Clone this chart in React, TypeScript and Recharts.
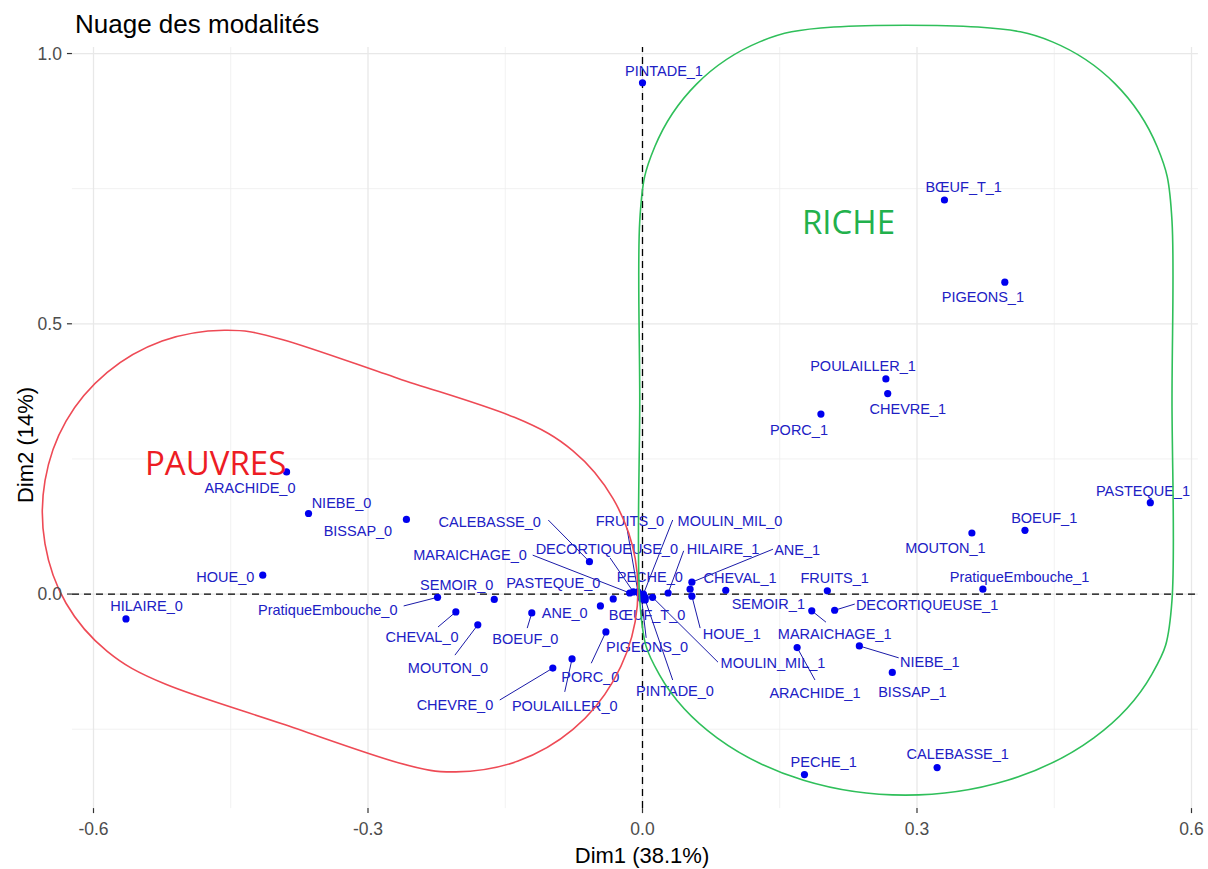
import React from 'react';
import { ScatterChart, Scatter, XAxis, YAxis, ReferenceLine } from 'recharts';

// name, Dim1, Dim2
const MODALITIES: [string, number, number][] = [
  ['PINTADE_1', 0.0, 0.946],
  ['BŒUF_T_1', 0.33, 0.729],
  ['PIGEONS_1', 0.396, 0.577],
  ['POULAILLER_1', 0.266, 0.398],
  ['CHEVRE_1', 0.268, 0.371],
  ['PORC_1', 0.195, 0.333],
  ['PASTEQUE_1', 0.555, 0.169],
  ['BOEUF_1', 0.418, 0.118],
  ['MOUTON_1', 0.36, 0.113],
  ['PratiqueEmbouche_1', 0.372, 0.009],
  ['FRUITS_1', 0.202, 0.006],
  ['DECORTIQUEUSE_1', 0.21, -0.03],
  ['SEMOIR_1', 0.091, 0.007],
  ['MARAICHAGE_1', 0.185, -0.031],
  ['NIEBE_1', 0.237, -0.096],
  ['BISSAP_1', 0.273, -0.145],
  ['ARACHIDE_1', 0.169, -0.099],
  ['PECHE_1', 0.177, -0.334],
  ['CALEBASSE_1', 0.322, -0.321],
  ['MOULIN_MIL_1', 0.011, -0.006],
  ['HOUE_1', 0.054, -0.004],
  ['ANE_1', 0.054, 0.022],
  ['HILAIRE_1', 0.028, 0.002],
  ['CHEVAL_1', 0.052, 0.009],
  ['HILAIRE_0', -0.5645, -0.046],
  ['HOUE_0', -0.415, 0.035],
  ['ARACHIDE_0', -0.389, 0.226],
  ['NIEBE_0', -0.365, 0.149],
  ['BISSAP_0', -0.258, 0.138],
  ['CALEBASSE_0', -0.058, 0.06],
  ['DECORTIQUEUSE_0', -0.01, 0.004],
  ['MARAICHAGE_0', -0.014, 0.002],
  ['PASTEQUE_0', -0.032, -0.009],
  ['FRUITS_0', -0.005, 0.004],
  ['MOULIN_MIL_0', 0.001, 0.0],
  ['PECHE_0', -0.003, 0.0],
  ['BŒUF_T_0', 0.003, -0.006],
  ['PIGEONS_0', -0.001, -0.009],
  ['PINTADE_0', 0.003, -0.011],
  ['PratiqueEmbouche_0', -0.224, -0.006],
  ['SEMOIR_0', -0.162, -0.01],
  ['CHEVAL_0', -0.204, -0.033],
  ['MOUTON_0', -0.18, -0.057],
  ['BOEUF_0', -0.121, -0.035],
  ['ANE_0', -0.046, -0.022],
  ['CHEVRE_0', -0.098, -0.137],
  ['POULAILLER_0', -0.077, -0.12],
  ['PORC_0', -0.04, -0.07],
];

// repelled label centres (Dim1, Dim2)
const LABEL_POS: [string, number, number][] = [
  ['PINTADE_1', 0.0235, 0.968],
  ['BŒUF_T_1', 0.351, 0.753],
  ['PIGEONS_1', 0.372, 0.549],
  ['POULAILLER_1', 0.241, 0.421],
  ['CHEVRE_1', 0.29, 0.342],
  ['PORC_1', 0.171, 0.303],
  ['PASTEQUE_1', 0.547, 0.191],
  ['BOEUF_1', 0.439, 0.141],
  ['MOUTON_1', 0.331, 0.085],
  ['PratiqueEmbouche_1', 0.412, 0.031],
  ['FRUITS_1', 0.21, 0.029],
  ['DECORTIQUEUSE_1', 0.311, -0.02],
  ['SEMOIR_1', 0.1375, -0.0185],
  ['MARAICHAGE_1', 0.21, -0.073],
  ['NIEBE_1', 0.314, -0.125],
  ['BISSAP_1', 0.295, -0.181],
  ['ARACHIDE_1', 0.1885, -0.183],
  ['PECHE_1', 0.198, -0.311],
  ['CALEBASSE_1', 0.3445, -0.295],
  ['MOULIN_MIL_1', 0.1426, -0.128],
  ['HOUE_1', 0.0975, -0.074],
  ['ANE_1', 0.169, 0.081],
  ['HILAIRE_1', 0.088, 0.083],
  ['CHEVAL_1', 0.1066, 0.03],
  ['HILAIRE_0', -0.542, -0.022],
  ['HOUE_0', -0.456, 0.031],
  ['ARACHIDE_0', -0.429, 0.196],
  ['NIEBE_0', -0.329, 0.169],
  ['BISSAP_0', -0.311, 0.117],
  ['CALEBASSE_0', -0.167, 0.134],
  ['DECORTIQUEUSE_0', -0.039, 0.083],
  ['MARAICHAGE_0', -0.1885, 0.072],
  ['PASTEQUE_0', -0.0975, 0.02],
  ['FRUITS_0', -0.0137, 0.135],
  ['MOULIN_MIL_0', 0.0956, 0.135],
  ['PECHE_0', 0.008, 0.031],
  ['BŒUF_T_0', 0.005, -0.039],
  ['PIGEONS_0', 0.005, -0.098],
  ['PINTADE_0', 0.0355, -0.179],
  ['PratiqueEmbouche_0', -0.344, -0.03],
  ['SEMOIR_0', -0.203, 0.017],
  ['CHEVAL_0', -0.241, -0.08],
  ['MOUTON_0', -0.2126, -0.137],
  ['BOEUF_0', -0.128, -0.083],
  ['ANE_0', -0.085, -0.035],
  ['CHEVRE_0', -0.205, -0.205],
  ['POULAILLER_0', -0.085, -0.207],
  ['PORC_0', -0.057, -0.154],
];

// leader segments: point -> label edge (Dim1, Dim2 of the label end)
const SEGMENT_ENDS: [string, number, number][] = [
  ['DECORTIQUEUSE_1', 0.232, -0.0185],
  ['MARAICHAGE_1', 0.2005, -0.052],
  ['NIEBE_1', 0.28, -0.118],
  ['ARACHIDE_1', 0.1885, -0.159],
  ['MOULIN_MIL_1', 0.0825, -0.126],
  ['HOUE_1', 0.063, -0.063],
  ['ANE_1', 0.1426, 0.083],
  ['HILAIRE_1', 0.045, 0.08],
  ['CALEBASSE_0', -0.103, 0.137],
  ['DECORTIQUEUSE_0', -0.0355, 0.067],
  ['MARAICHAGE_0', -0.12, 0.072],
  ['FRUITS_0', -0.017, 0.122],
  ['MOULIN_MIL_0', 0.033, 0.137],
  ['PIGEONS_0', 0.004, -0.081],
  ['PINTADE_0', 0.033, -0.159],
  ['PratiqueEmbouche_0', -0.261, -0.022],
  ['CHEVAL_0', -0.2235, -0.061],
  ['MOUTON_0', -0.205, -0.113],
  ['BOEUF_0', -0.126, -0.063],
  ['CHEVRE_0', -0.156, -0.196],
  ['POULAILLER_0', -0.085, -0.181],
  ['PORC_0', -0.056, -0.128],
];

// hand-drawn group outlines (Dim1, Dim2 vertices)
const PAUVRES_OUTLINE: [number, number][] = [
  [-0.14, 0.327], [-0.076, 0.265], [-0.032, 0.176], [-0.008, 0.066], [-0.008, -0.051],
  [-0.032, -0.161], [-0.076, -0.2505], [-0.136, -0.309], [-0.204, -0.329], [-0.267, -0.312],
  [-0.394, -0.24], [-0.521, -0.167], [-0.585, -0.106], [-0.63, -0.017], [-0.653, 0.093],
  [-0.653, 0.21], [-0.63, 0.32], [-0.585, 0.41], [-0.525, 0.468], [-0.457, 0.488],
  [-0.394, 0.471], [-0.267, 0.399],
];
const RICHE_OUTLINE: [number, number][] = [
  [-0.003, 0.359], [-0.003, 0.69], [0.0134, 0.8276], [0.0593, 0.944], [0.128, 1.0216],
  [0.209, 1.049], [0.3667, 1.049], [0.448, 1.0216], [0.5166, 0.944], [0.5625, 0.8276],
  [0.5787, 0.69], [0.5787, 0.359], [0.5787, -0.011], [0.5565, -0.149], [0.4933, -0.266],
  [0.399, -0.3445], [0.2874, -0.372], [0.176, -0.3445], [0.0815, -0.266], [0.0184, -0.149],
  [-0.003, -0.011],
];
const GROUP_TAGS: [string, number, number][] = [
  ['PAUVRES', -0.5437, 0.22],
  ['RICHE', 0.1743, 0.666],
];

const X_TICKS = [-0.6, -0.3, 0, 0.3, 0.6];
const Y_TICKS = [0, 0.5, 1];
const X_MINOR = [-0.45, -0.15, 0.15, 0.45];
const Y_MINOR = [-0.25, 0.25, 0.75];
const X_DOMAIN: [number, number] = [-0.67, 0.607];
const Y_DOMAIN: [number, number] = [-0.396, 1.08];
const PANEL_X: [number, number] = [-0.6235, 0.607];
const PANEL_Y: [number, number] = [-0.396, 1.012];

const FONT = '"Liberation Sans", Arial, Helvetica, sans-serif';
const LABEL_COLOR = '#2020c4';

const pointData = MODALITIES.map(([name, x, y]) => ({ name, x, y }));
const labelData = LABEL_POS.map(([name, x, y]) => ({ name, x, y }));
const posOf: Record<string, [number, number]> = {};
MODALITIES.forEach(([n, x, y]) => { posOf[n] = [x, y]; });
const redData = PAUVRES_OUTLINE.map(([x, y]) => ({ x, y }));
const greenData = RICHE_OUTLINE.map(([x, y]) => ({ x, y }));
const tagData = GROUP_TAGS.map(([name, x, y]) => ({ name, x, y }));

function smoothClosed(pts: { x: number; y: number }[]) {
  const n = pts.length;
  if (!n) return '';
  let d = `M${pts[0].x},${pts[0].y}`;
  for (let i = 0; i < n; i++) {
    const p0 = pts[(i - 1 + n) % n];
    const p1 = pts[i];
    const p2 = pts[(i + 1) % n];
    const p3 = pts[(i + 2) % n];
    const c1x = p1.x + (p2.x - p0.x) / 6;
    const c1y = p1.y + (p2.y - p0.y) / 6;
    const c2x = p2.x - (p3.x - p1.x) / 6;
    const c2y = p2.y - (p3.y - p1.y) / 6;
    d += ` C${c1x},${c1y} ${c2x},${c2y} ${p2.x},${p2.y}`;
  }
  return d + ' Z';
}

const hullLine = (color: string) => (props: any) => {
  const pts = (props.points || []).map((p: any) => ({ x: p.x ?? p.cx, y: p.y ?? p.cy }));
  return <path d={smoothClosed(pts)} fill="none" stroke={color} strokeWidth={1.6} />;
};

const YTick = (props: any) => {
  const { x, y, payload } = props;
  return (
    <g>
      <text x={x + 32.5} y={y} textAnchor="end" dominantBaseline="central" fill="#4d4d4d" fontSize={17.5} fontFamily={FONT}>
        {Number(payload.value).toFixed(1)}
      </text>
      <line x1={x + 37.5} x2={x + 42.5} y1={y} y2={y} stroke="#333333" strokeWidth={1.2} />
    </g>
  );
};

export default function App() {
  return (
    <div style={{ position: 'absolute', left: 0, top: 0, width: 1208, height: 869, background: '#fff' }}>
      <ScatterChart width={1208} height={869} margin={{ top: 10.3, right: 10.1, bottom: 30.9, left: 9.45 }}>
        <XAxis
          type="number"
          dataKey="x"
          domain={X_DOMAIN}
          ticks={X_TICKS}
          scale="linear"
          height={30}
          axisLine={false}
          tickSize={5}
          tickMargin={9}
          tickLine={{ stroke: '#333333', strokeWidth: 1.2 }}
          tick={{ fill: '#4d4d4d', fontSize: 17.5, fontFamily: FONT }}
          tickFormatter={(v: number) => v.toFixed(1)}
          interval={0}
        />
        <YAxis
          type="number"
          dataKey="y"
          domain={Y_DOMAIN}
          ticks={Y_TICKS}
          scale="linear"
          width={20}
          axisLine={false}
          tickLine={false}
          tickSize={0}
          tickMargin={0}
          tick={<YTick />}
          interval={0}
        />
        {X_MINOR.map((v) => (
          <ReferenceLine key={'xm' + v} segment={[{ x: v, y: PANEL_Y[0] }, { x: v, y: PANEL_Y[1] }]} stroke="#ededed" strokeWidth={0.8} />
        ))}
        {Y_MINOR.map((v) => (
          <ReferenceLine key={'ym' + v} segment={[{ x: PANEL_X[0], y: v }, { x: PANEL_X[1], y: v }]} stroke="#ededed" strokeWidth={0.8} />
        ))}
        {X_TICKS.map((v) => (
          <ReferenceLine key={'xM' + v} segment={[{ x: v, y: PANEL_Y[0] }, { x: v, y: PANEL_Y[1] }]} stroke="#e8e8e8" strokeWidth={1.3} />
        ))}
        {Y_TICKS.map((v) => (
          <ReferenceLine key={'yM' + v} segment={[{ x: PANEL_X[0], y: v }, { x: PANEL_X[1], y: v }]} stroke="#e8e8e8" strokeWidth={1.3} />
        ))}
        <ReferenceLine segment={[{ x: PANEL_X[0], y: 0 }, { x: PANEL_X[1], y: 0 }]} stroke="#000" strokeWidth={1.3} strokeDasharray="7 5" />
        <ReferenceLine segment={[{ x: 0, y: PANEL_Y[0] }, { x: 0, y: PANEL_Y[1] }]} stroke="#000" strokeWidth={1.3} strokeDasharray="7 5" />
        {SEGMENT_ENDS.map(([name, ex, ey]) => (
          <ReferenceLine
            key={'seg' + name}
            segment={[{ x: posOf[name][0], y: posOf[name][1] }, { x: ex, y: ey }]}
            stroke="#1a1aa8"
            strokeWidth={1}
          />
        ))}
        <Scatter
          data={pointData}
          isAnimationActive={false}
          shape={(p: any) => <circle cx={p.cx} cy={p.cy} r={3.6} fill="#0000ee" />}
        />
        <Scatter
          data={labelData}
          isAnimationActive={false}
          shape={(p: any) => (
            <text x={p.cx} y={p.cy} textAnchor="middle" dominantBaseline="central" fontSize={14.5} fontFamily={FONT} fill={LABEL_COLOR}>
              {p.payload?.name ?? p.name}
            </text>
          )}
        />
        <Scatter data={redData} isAnimationActive={false} line={hullLine('#ee4a55')} shape={() => <g />} />
        <Scatter data={greenData} isAnimationActive={false} line={hullLine('#2fbf5a')} shape={() => <g />} />
        <Scatter
          data={tagData}
          isAnimationActive={false}
          shape={(p: any) => {
            const name = p.payload?.name ?? p.name;
            return (
              <text x={p.cx} y={p.cy} textAnchor="start" fontSize={33} fontFamily='"Open Sans", "Noto Sans", sans-serif' fill={name === 'PAUVRES' ? '#ed1c24' : '#22b14c'}>
                {name}
              </text>
            );
          }}
        />
      </ScatterChart>
      <svg width={1208} height={869} style={{ position: 'absolute', left: 0, top: 0, pointerEvents: 'none' }}>
        <text x={75} y={33} fontSize={26} fontFamily={FONT} fill="#000">Nuage des modalités</text>
        <text x={642} y={863} textAnchor="middle" fontSize={22} fontFamily={FONT} fill="#000">Dim1 (38.1%)</text>
        <text x={0} y={0} transform="translate(33,445) rotate(-90)" textAnchor="middle" fontSize={22} fontFamily={FONT} fill="#000">Dim2 (14%)</text>
      </svg>
    </div>
  );
}
